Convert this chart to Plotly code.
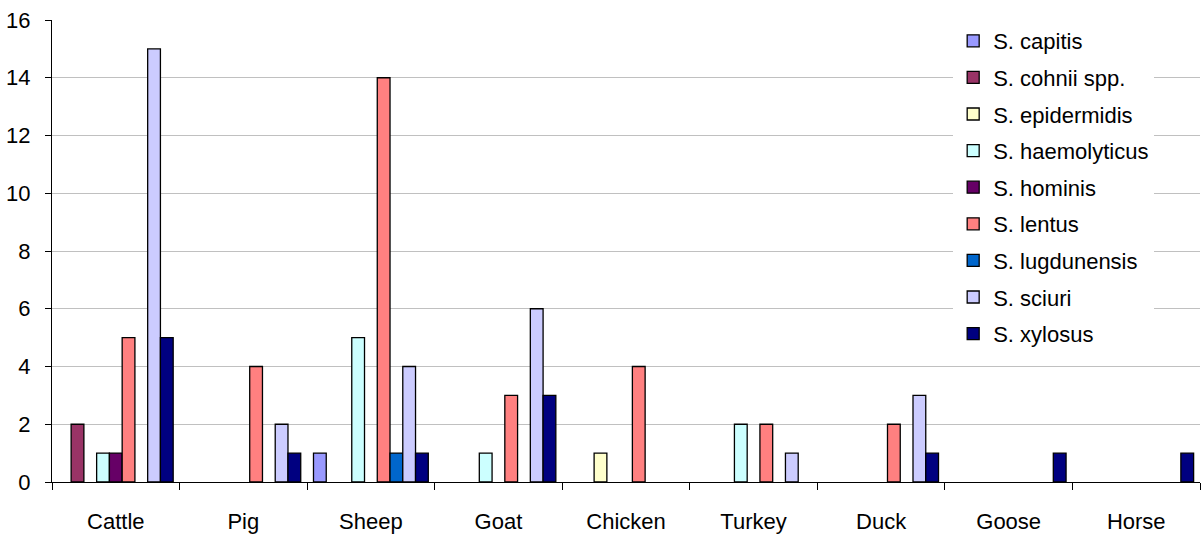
import plotly.graph_objects as go

categories = ["Cattle", "Pig", "Sheep", "Goat", "Chicken", "Turkey", "Duck", "Goose", "Horse"]

species = ["S. capitis", "S. cohnii spp.", "S. epidermidis", "S. haemolyticus",
           "S. hominis", "S. lentus", "S. lugdunensis", "S. sciuri", "S. xylosus"]

# isolate counts per host, one list per species (None = no isolates)
s_capitis      = [None, None, 1, None, None, None, None, None, None]
s_cohnii       = [2, None, None, None, None, None, None, None, None]
s_epidermidis  = [None, None, None, None, 1, None, None, None, None]
s_haemolyticus = [1, None, 5, 1, None, 2, None, None, None]
s_hominis      = [1, None, None, None, None, None, None, None, None]
s_lentus       = [5, 4, 14, 3, 4, 2, 2, None, None]
s_lugdunensis  = [None, None, 1, None, None, None, None, None, None]
s_sciuri       = [15, 2, 4, 6, None, 1, 3, None, None]
s_xylosus      = [5, 1, 1, 3, None, None, 1, 1, 1]

series = [s_capitis, s_cohnii, s_epidermidis, s_haemolyticus, s_hominis,
          s_lentus, s_lugdunensis, s_sciuri, s_xylosus]

colors = ["#9999FF", "#993366", "#FFFFCC", "#CCFFFF", "#660066",
          "#FF8080", "#0066CC", "#CCCCFF", "#000080"]

fig = go.Figure()
for i, (name, vals, col) in enumerate(zip(species, series, colors)):
    fig.add_trace(go.Bar(
        x=categories, y=vals, name=name,
        marker=dict(color=col, line=dict(color="black", width=1.3)),
        legendgroup=f"g{i}",
    ))

fig.update_layout(
    width=1201, height=536,
    margin=dict(l=52, r=1, t=20, b=54),
    paper_bgcolor="white", plot_bgcolor="white",
    barmode="group", bargap=0.1, bargroupgap=0,
    font=dict(family="Liberation Sans, Arial, sans-serif", size=22, color="black"),
    legend=dict(
        x=0.785, y=1.0, xanchor="left", yanchor="top",
        bgcolor="white", borderwidth=0,
        font=dict(size=22), tracegroupgap=5,
        itemwidth=30,
    ),
    showlegend=True,
)

fig.update_xaxes(
    type="category", showline=True, linecolor="black", linewidth=1,
    ticks="outside", tickson="boundaries", ticklen=7, tickcolor="black",
    showgrid=False, ticklabelstandoff=20,
)
fig.update_yaxes(
    range=[0, 16], dtick=2, showline=True, linecolor="black", linewidth=1,
    ticks="outside", ticklen=6, tickcolor="black",
    showgrid=True, gridcolor="#C0C0C0", gridwidth=1, zeroline=False,
    ticklabelstandoff=10,
)

fig.write_html("out.html")
